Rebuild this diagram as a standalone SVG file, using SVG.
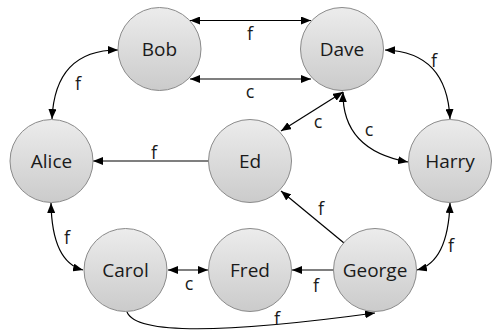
<svg xmlns="http://www.w3.org/2000/svg" width="493" height="331" viewBox="0 0 493 331">
<defs>
<linearGradient id="g" x1="0" y1="0" x2="0" y2="1">
<stop offset="0" stop-color="#ececec"/>
<stop offset="1" stop-color="#cbcbcb"/>
</linearGradient>
<marker id="a" viewBox="0 0 10 8" refX="10" refY="4" markerWidth="10" markerHeight="8" markerUnits="userSpaceOnUse" orient="auto-start-reverse">
<path d="M0,0 L10,4 L0,8 Z" fill="#000"/>
</marker>
</defs>
<style>
.n circle{fill:url(#g);stroke:#8a8a8a;stroke-width:1}
.n text{font-family:"Open Sans","Noto Sans",sans-serif;font-size:19px;fill:#1a1a1a;text-anchor:middle;dominant-baseline:central}
.e path{fill:none;stroke:#000;stroke-width:1.2}
.l{font-family:"Open Sans","Noto Sans",sans-serif;font-size:18px;fill:#1a1a1a;text-anchor:middle;dominant-baseline:central}
</style>
<rect width="493" height="331" fill="#fff"/>
<g id="connectors" class="e">
<path d="M190,20.5 L311,20.5" marker-start="url(#a)" marker-end="url(#a)"/>
<path d="M190,79 L311,79" marker-start="url(#a)" marker-end="url(#a)"/>
<path d="M118,50 Q55,50 52,119" marker-start="url(#a)" marker-end="url(#a)"/>
<path d="M209,161 L93,161" marker-end="url(#a)"/>
<path d="M343,92 L281,131" marker-start="url(#a)" marker-end="url(#a)"/>
<path d="M343,92 Q342,150 408,162" marker-start="url(#a)" marker-end="url(#a)"/>
<path d="M385,50 Q447,52 450,119" marker-start="url(#a)" marker-end="url(#a)"/>
<path d="M51,203 Q52,262 83,270" marker-start="url(#a)" marker-end="url(#a)"/>
<path d="M168,270 L208,270" marker-start="url(#a)" marker-end="url(#a)"/>
<path d="M334,270 L292,270" marker-end="url(#a)"/>
<path d="M344,243 L281,191" marker-end="url(#a)"/>
<path d="M450,203 Q448,262 417,270" marker-start="url(#a)" marker-end="url(#a)"/>
<path d="M127,312 Q140,345 375,313" marker-end="url(#a)"/>
</g>
<g id="edge-labels">
<text class="l" x="250" y="33">f</text>
<text class="l" x="250" y="91">c</text>
<text class="l" x="78" y="83">f</text>
<text class="l" x="154" y="152">f</text>
<text class="l" x="318" y="121">c</text>
<text class="l" x="369" y="129">c</text>
<text class="l" x="434" y="60">f</text>
<text class="l" x="67" y="237">f</text>
<text class="l" x="189" y="283">c</text>
<text class="l" x="316" y="285">f</text>
<text class="l" x="321" y="208">f</text>
<text class="l" x="451" y="245">f</text>
<text class="l" x="277" y="318">f</text>
</g>
<g id="Bob" class="n"><circle cx="159.5" cy="49" r="41.5"/><text x="159.5" y="49">Bob</text></g>
<g id="Dave" class="n"><circle cx="342" cy="49" r="41.5"/><text x="342" y="49">Dave</text></g>
<g id="Alice" class="n"><circle cx="51.5" cy="161" r="41.5"/><text x="51.5" y="161">Alice</text></g>
<g id="Ed" class="n"><circle cx="250" cy="161" r="41.5"/><text x="250" y="161">Ed</text></g>
<g id="Harry" class="n"><circle cx="450" cy="161" r="41.5"/><text x="450" y="161">Harry</text></g>
<g id="Carol" class="n"><circle cx="125.5" cy="270" r="41.5"/><text x="125.5" y="270">Carol</text></g>
<g id="Fred" class="n"><circle cx="250" cy="270" r="41.5"/><text x="250" y="270">Fred</text></g>
<g id="George" class="n"><circle cx="375" cy="270" r="41.5"/><text x="375" y="270">George</text></g>
</svg>
